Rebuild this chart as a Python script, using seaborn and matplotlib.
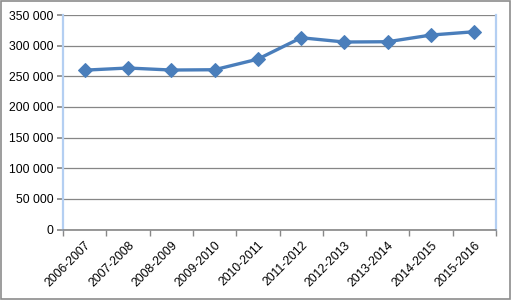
import matplotlib
matplotlib.use("Agg")
import matplotlib.pyplot as plt
import matplotlib.ticker as mticker
from matplotlib.patches import Rectangle
import seaborn as sns
import pandas as pd

periods = ["2006-2007", "2007-2008", "2008-2009", "2009-2010", "2010-2011",
           "2011-2012", "2012-2013", "2013-2014", "2014-2015", "2015-2016"]
values = [260000, 263500, 260200, 260700, 278000,
          312900, 305900, 306400, 317300, 322700]
yticks = [0, 50000, 100000, 150000, 200000, 250000, 300000, 350000]

sns.set_theme(style="white")
plt.rcParams["font.family"] = ["Liberation Sans", "DejaVu Sans"]

df = pd.DataFrame({"x": list(range(len(periods))), "v": values})

fig = plt.figure(figsize=(5.11, 3.0), dpi=100)
ax = fig.add_axes([63 / 511, 1 - 229.5 / 300, (496 - 63) / 511, (229.5 - 15) / 300])

sns.lineplot(data=df, x="x", y="v", ax=ax, color="#4a7ebb", linewidth=2.4,
             marker="D", markersize=7, markeredgecolor="#4a7ebb")

ax.set_xlim(-0.5, len(periods) - 0.5)
ax.set_ylim(0, 350000)
ax.set_yticks(yticks)
ax.yaxis.set_major_formatter(mticker.FuncFormatter(lambda v, p: f"{int(v):,}".replace(",", " ")))
ax.set_xticks(range(len(periods)))
ax.set_xticklabels(periods, rotation=45, ha="right", rotation_mode="anchor")
ax.set_xticks([i - 0.5 for i in range(len(periods) + 1)], minor=True)
ax.tick_params(axis="x", which="major", length=0, labelsize=8.8, pad=7, colors="#000000")
ax.tick_params(axis="x", which="minor", length=4, color="#888888", direction="out", bottom=True)
ax.tick_params(axis="y", length=4, color="#888888", direction="out", left=True, labelsize=8.8, pad=3,
               labelcolor="#000000")
ax.set_xlabel("")
ax.set_ylabel("")
ax.grid(axis="y", color="#868686", linewidth=0.9)
ax.grid(axis="x", visible=False)

for s in ["left", "right", "top"]:
    ax.spines[s].set_color("#b4cff2")
    ax.spines[s].set_linewidth(1.6)
ax.spines["bottom"].set_color("#868686")
ax.spines["bottom"].set_linewidth(1.2)
ax.spines["top"].set_visible(False)

fig.patches.append(Rectangle((0.002, 0.004), 0.996, 0.992, transform=fig.transFigure,
                             fill=False, edgecolor="#8c8c8c", linewidth=1.2))

fig.savefig("out.png", dpi=100)
